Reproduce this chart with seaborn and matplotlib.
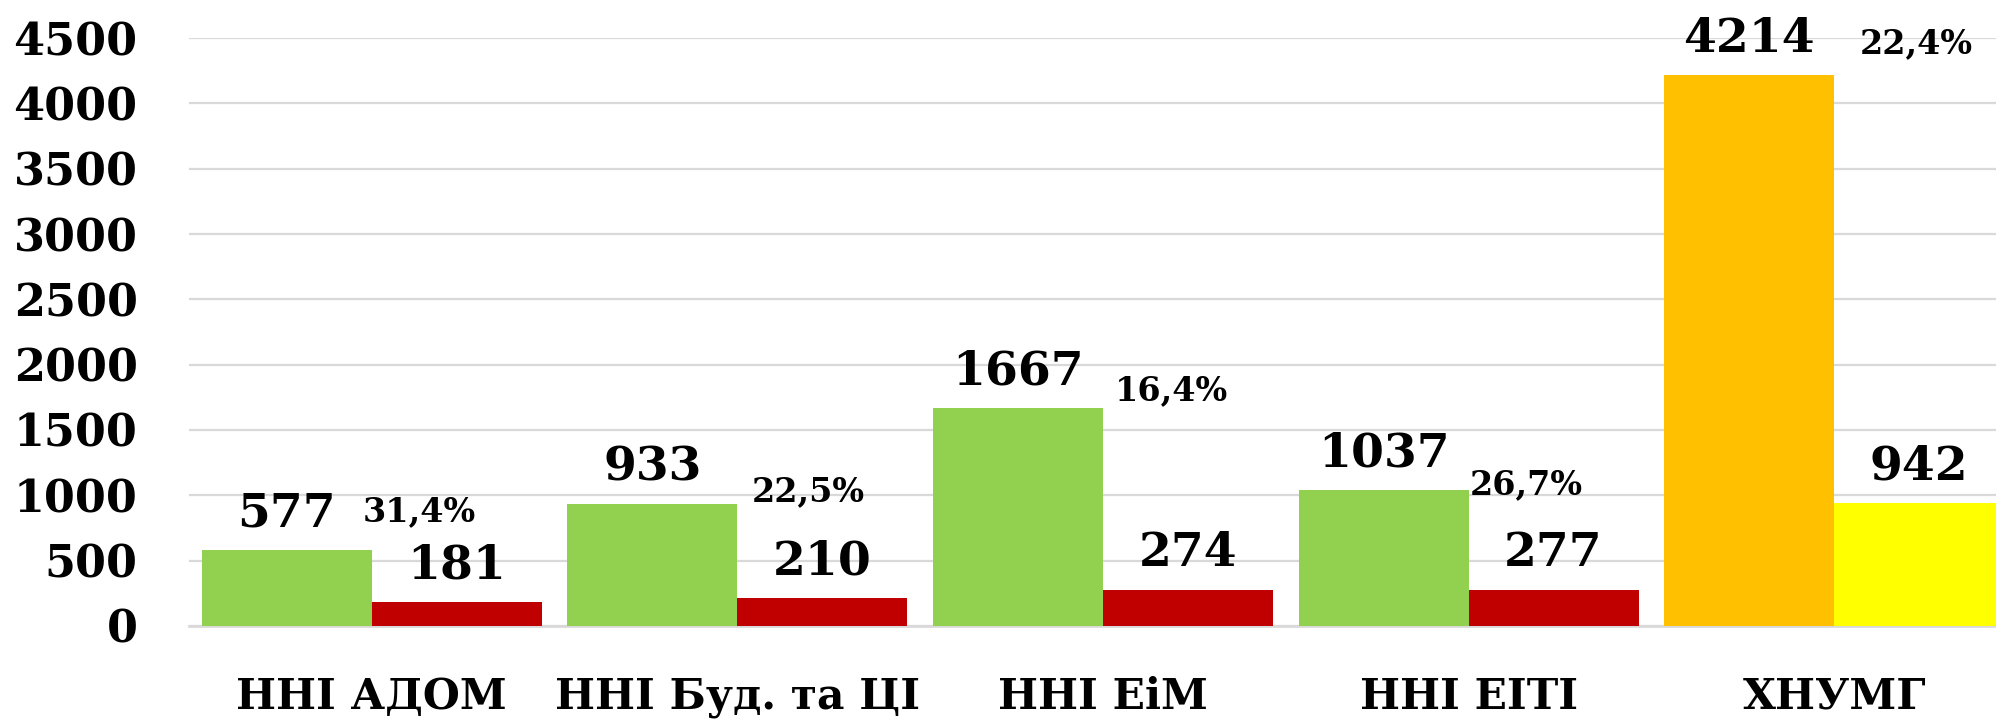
import matplotlib
matplotlib.use("Agg")
import matplotlib.pyplot as plt
import seaborn as sns
import pandas as pd

categories = ["ННІ АДОМ", "ННІ Буд. та ЦІ", "ННІ ЕіМ", "ННІ ЕІТІ", "ХНУМГ"]
total_values = [577, 933, 1667, 1037, 4214]
part_values = [181, 210, 274, 277, 942]
pct_labels = ["31,4%", "22,5%", "16,4%", "26,7%", "22,4%"]
yticks = [0, 500, 1000, 1500, 2000, 2500, 3000, 3500, 4000, 4500]

# layout of the manually placed percentage labels (offset from category centre, y position)
pct_dx = [0.131, 0.195, 0.188, 0.157, 0.224]
pct_y = [871, 1030, 1803, 1083, 4458]

GREEN, RED, ORANGE, YELLOW = "#92D050", "#C00000", "#FFC000", "#FFFF00"
GRID = "#D9D9D9"

sns.set_theme(style="white")
plt.rcParams["font.family"] = ["DejaVu Serif"]
plt.rcParams["font.weight"] = "bold"
plt.rcParams["text.color"] = "black"
plt.rcParams["xtick.labelcolor"] = "black"
plt.rcParams["ytick.labelcolor"] = "black"

df = pd.DataFrame({
    "cat": categories * 2,
    "series": ["total"] * len(categories) + ["part"] * len(categories),
    "value": total_values + part_values,
})

fig = plt.figure(figsize=(19.96, 7.2), dpi=100)
ax = fig.add_axes([189 / 1996, 94.2 / 720, 5 * 365.6 / 1996, (625.8 - 38.1) / 720])

sns.barplot(data=df, x="cat", y="value", hue="series", order=categories,
            hue_order=["total", "part"], palette=[GREEN, RED], width=0.93,
            saturation=1, legend=False, ax=ax, zorder=3)

# special colours for the last category
c0, c1 = ax.containers[0], ax.containers[1]
c0.patches[-1].set_facecolor(ORANGE)
c1.patches[-1].set_facecolor(YELLOW)
for cont in (c0, c1):
    for p in cont.patches:
        p.set_edgecolor("none")
        p.set_linewidth(0)

ax.set_xlim(-0.5, 4.5)
ax.set_ylim(0, 4500)
ax.set_yticks(yticks)
ax.set_yticklabels([str(v) for v in yticks], fontsize=32, fontweight="bold", color="black")
ax.tick_params(axis="y", length=0, pad=37, labelcolor="black")

ax.set_xticks(range(len(categories)))
ax.set_xticklabels(categories, fontsize=30.5, fontweight="bold", color="black")
ax.set_xticks([i - 0.5 for i in range(len(categories) + 1)], minor=True)
ax.tick_params(axis="x", which="major", length=0, pad=36, labelcolor="black")
ax.tick_params(axis="x", which="minor", length=12, width=1.5, color=GRID, direction="out")
ax.set_xlabel("")
ax.set_ylabel("")

ax.yaxis.grid(True, color=GRID, linewidth=1.6, zorder=0)
ax.xaxis.grid(False)
ax.set_axisbelow(True)
for s in ["top", "left", "right"]:
    ax.spines[s].set_visible(False)
ax.spines["bottom"].set_color(GRID)
ax.spines["bottom"].set_linewidth(2)

# value labels
for cont in (c0, c1):
    for p in cont.patches:
        h = p.get_height()
        ax.annotate(f"{int(round(h))}", (p.get_x() + p.get_width() / 2, h),
                    xytext=(0, 17), textcoords="offset points", ha="center",
                    va="baseline", fontsize=34, fontweight="bold", color="black",
                    annotation_clip=False)

# percentage labels
for i, lab in enumerate(pct_labels):
    ax.text(i + pct_dx[i], pct_y[i], lab, ha="center", va="center",
            fontsize=24, fontweight="bold", color="black", clip_on=False)

fig.savefig("out.png", dpi=100, facecolor="white")
